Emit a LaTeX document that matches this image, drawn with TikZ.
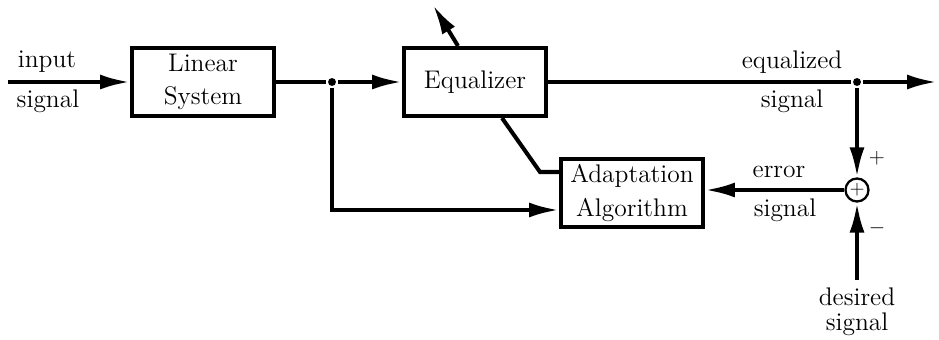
\documentclass[tikz,border=0pt]{standalone}
\usepackage{tikz}
\usetikzlibrary{positioning, arrows.meta}
\tikzset{
	block/.style={draw, rectangle, line width=2.3pt, minimum width=2.84cm, minimum height=1.36cm, align=center, font=\fontsize{14.5}{19}\selectfont},
	lbl/.style={inner sep=1pt, align=center, font=\fontsize{14.5}{17}\selectfont},
	sign/.style={inner sep=1pt, font=\fontsize{12}{14}\selectfont},
	sum/.style={draw, circle, line width=1.3pt, minimum size=0.46cm, inner sep=0pt, font=\fontsize{11}{13}\selectfont},
	tap/.style={circle, fill, inner sep=0pt, minimum size=4.5pt},
}

\begin{document}
\begin{tikzpicture}[x=0.02cm, y=-0.02cm, line width=2.3pt, >={Latex[length=17pt,width=8.5pt]}]
	\useasboundingbox (0,0) rectangle (939,340);
	
	\node (lin) [block] at (203,82) {Linear\\System};
	\node (eq) [block] at (475,82) {Equalizer};
	\node (adapt) [block] at (632,193) {Adaptation\\Algorithm};
	\node (sum) [sum] at (857,190) {$+$};
	
	\node (split) [tap] at (332,82) {};
	\node (out) [tap] at (857,82) {};
	\coordinate (in) at (8,82);
	\coordinate (end) at (937,82);
	\coordinate (des) at (857,280);
	\coordinate (tune) at (433,5);
	\coordinate (kink) at (540,172);
	
	% labels
	\node (inA) [lbl] at (47,62) {input};
	\node (inB) [lbl] at (48,101) {signal};
	\node (eqA) [lbl] at (792,62) {equalized};
	\node (eqB) [lbl] at (792,101) {signal};
	\node (erA) [lbl] at (779,172) {error};
	\node (erB) [lbl] at (785,210) {signal};
	\node (desA) [lbl] at (857,312) {desired\\[-3pt]signal};
	\node (plus) [sign] at (877,158) {$+$};
	\node (minus) [sign] at (877,228) {$-$};
	
	\begin{scope}[->]
		\draw (in) -- (lin);
		\draw (split) -- (eq);
		\draw (out) -- (end);
		\draw (out) -- (sum);
		\draw (des) -- (sum);
		\draw (sum) -- (adapt.east |- sum);
		\draw (split) |- ([yshift=-0.34cm]adapt.west);
		\draw ([xshift=-0.34cm]eq.north) -- (tune);
	\end{scope}
	\draw (lin) -- (split);
	\draw (eq) -- (out);
	\draw ([xshift=0.54cm]eq.south) -- (kink) -- ([yshift=0.42cm]adapt.west);
	
\end{tikzpicture}
\end{document}
